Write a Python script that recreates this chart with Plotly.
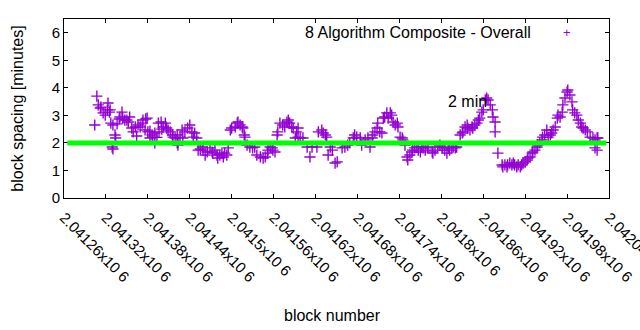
import plotly.graph_objects as go

# ---- data ----
blocks = [
 2041304, 2041307, 2041309, 2041312, 2041313, 2041316, 2041319, 2041322, 2041323, 2041325,
 2041326, 2041327, 2041329, 2041330, 2041330, 2041333, 2041334, 2041336, 2041339, 2041340,
 2041343, 2041344, 2041347, 2041350, 2041352, 2041354, 2041357, 2041359, 2041362, 2041364,
 2041366, 2041369, 2041372, 2041373, 2041376, 2041377, 2041379, 2041380, 2041383, 2041383,
 2041386, 2041387, 2041390, 2041390, 2041393, 2041395, 2041396, 2041399, 2041400, 2041402,
 2041405, 2041407, 2041409, 2041412, 2041415, 2041416, 2041419, 2041422, 2041422, 2041423,
 2041423, 2041426, 2041429, 2041430, 2041433, 2041437, 2041440, 2041443, 2041445, 2041447,
 2041450, 2041452, 2041455, 2041458, 2041459, 2041462, 2041465, 2041469, 2041472, 2041473,
 2041476, 2041479, 2041480, 2041483, 2041486, 2041488, 2041490, 2041493, 2041495, 2041498,
 2041500, 2041505, 2041508, 2041509, 2041512, 2041515, 2041516, 2041518, 2041519, 2041522,
 2041526, 2041530, 2041533, 2041536, 2041541, 2041545, 2041548, 2041551, 2041552, 2041555,
 2041558, 2041559, 2041562, 2041565, 2041566, 2041569, 2041573, 2041576, 2041579, 2041581,
 2041583, 2041586, 2041588, 2041591, 2041593, 2041595, 2041595, 2041598, 2041602, 2041608,
 2041612, 2041615, 2041622, 2041624, 2041629, 2041631, 2041634, 2041636, 2041638, 2041641,
 2041644, 2041648, 2041651, 2041658, 2041662, 2041666, 2041669, 2041674, 2041676, 2041679,
 2041684, 2041686, 2041691, 2041695, 2041698, 2041701, 2041702, 2041705, 2041708, 2041709,
 2041712, 2041715, 2041717, 2041719, 2041722, 2041724, 2041727, 2041729, 2041731, 2041734,
 2041737, 2041738, 2041741, 2041744, 2041745, 2041748, 2041751, 2041752, 2041755, 2041758,
 2041759, 2041762, 2041765, 2041767, 2041770, 2041772, 2041774, 2041777, 2041780, 2041781,
 2041787, 2041788, 2041791, 2041795, 2041798, 2041801, 2041802, 2041805, 2041808, 2041810,
 2041812, 2041815, 2041817, 2041820, 2041822, 2041827, 2041830, 2041831, 2041834, 2041837,
 2041838, 2041841, 2041844, 2041845, 2041848, 2041851, 2041853, 2041855, 2041858, 2041860,
 2041863, 2041865, 2041867, 2041870, 2041873, 2041874, 2041877, 2041877, 2041881, 2041887,
 2041888, 2041891, 2041894, 2041895, 2041898, 2041901, 2041903, 2041905, 2041908, 2041910,
 2041913, 2041915, 2041917, 2041920, 2041923, 2041924, 2041927, 2041930, 2041931, 2041934,
 2041937, 2041938, 2041941, 2041944, 2041945, 2041948, 2041951, 2041953, 2041956, 2041958,
 2041960, 2041963, 2041966, 2041967, 2041970, 2041973, 2041974, 2041977, 2041980, 2041981,
 2041984, 2041987, 2041988, 2041991, 2041994, 2041996, 2041999, 2042001, 2042003, 2042006,
 2042009, 2042013, 2042017, 2042020, 2042020, 2042023, 2042023, 2042024,
]
spacing_minutes = [
 2.65, 3.70, 3.38, 3.27, 3.30, 3.09, 3.01, 3.20, 3.45, 3.12,
 3.20, 2.72, 1.85, 2.65, 1.78, 2.29, 2.18, 2.69, 2.87, 2.94,
 3.12, 2.90, 2.83, 2.83, 2.76, 2.94, 2.54, 2.40, 2.58, 2.25,
 2.65, 2.58, 2.72, 2.83, 2.47, 2.87, 2.90, 2.40, 2.43, 2.18,
 2.29, 2.21, 2.00, 2.36, 2.20, 2.72, 2.40, 2.76, 2.50, 2.58,
 2.72, 2.54, 2.47, 2.40, 2.29, 2.21, 2.18, 2.29, 2.00, 2.03,
 1.92, 2.21, 2.47, 2.18, 2.40, 2.54, 2.65, 2.40, 2.21, 2.36,
 2.18, 1.74, 1.78, 1.85, 1.74, 1.56, 1.67, 1.82, 1.67, 1.63,
 1.74, 1.56, 1.45, 1.56, 1.63, 1.49, 1.63, 1.56, 1.82, 2.47,
 2.54, 2.58, 2.72, 2.76, 2.65, 2.58, 2.54, 2.29, 2.21, 1.92,
 1.85, 1.82, 1.85, 1.56, 1.49, 1.45, 1.49, 1.63, 1.74, 1.85,
 1.82, 1.74, 1.67, 2.29, 2.40, 2.72, 2.65, 2.58, 2.76, 2.83,
 2.72, 2.58, 2.54, 2.18, 2.40, 2.54, 2.21, 2.18, 2.18, 1.85,
 1.49, 1.85, 1.85, 2.40, 2.47, 2.36, 2.29, 2.21, 1.56, 1.85,
 1.74, 1.27, 1.31, 1.82, 1.85, 1.92, 2.00, 2.18, 2.29, 2.21,
 2.18, 1.92, 2.11, 2.18, 1.85, 2.18, 2.29, 2.40, 2.54, 2.72,
 2.40, 2.36, 2.90, 2.94, 3.09, 2.90, 3.09, 3.01, 2.76, 2.65,
 2.72, 2.58, 2.21, 2.18, 2.11, 1.92, 1.49, 1.38, 1.56, 1.67,
 1.74, 1.82, 1.85, 1.74, 1.67, 1.85, 1.82, 1.74, 1.85, 1.82,
 1.67, 1.63, 1.74, 1.85, 1.92, 1.85, 1.82, 1.74, 1.63, 1.82,
 1.74, 1.82, 1.85, 1.82, 1.85, 2.29, 2.36, 2.40, 2.58, 2.65,
 2.54, 2.47, 2.58, 2.54, 2.65, 2.72, 2.83, 2.90, 3.12, 3.20,
 3.56, 3.63, 3.56, 3.38, 3.20, 2.94, 2.76, 2.40, 1.63, 1.20,
 1.13, 1.20, 1.13, 1.20, 1.27, 1.20, 1.27, 1.20, 1.13, 1.20,
 1.13, 1.20, 1.27, 1.31, 1.38, 1.45, 1.49, 1.63, 1.67, 1.74,
 1.85, 1.92, 2.00, 2.11, 2.21, 2.29, 2.47, 2.21, 2.29, 2.36,
 2.47, 2.58, 2.90, 3.01, 2.94, 3.12, 3.38, 3.63, 3.85, 3.92,
 3.74, 3.49, 3.20, 3.09, 3.01, 2.83, 2.72, 2.58, 2.54, 2.47,
 2.40, 2.21, 2.18, 2.11, 1.82, 2.18, 1.74, 2.18,
]
series_name = "8 Algorithm Composite - Overall"
target_minutes = 2
label_text = "2 min"
label_block = 2041807
label_value = 3.5

x_tick_values = [2041260, 2041320, 2041380, 2041440, 2041500, 2041560, 2041620,
                 2041680, 2041740, 2041800, 2041860, 2041920, 2041980, 2042040]
x_tick_labels = [
 "2.04126x10 6", "2.04132x10 6", "2.04138x10 6", "2.04144x10 6", "2.0415x10 6",
 "2.04156x10 6", "2.04162x10 6", "2.04168x10 6", "2.04174x10 6", "2.0418x10 6",
 "2.04186x10 6", "2.04192x10 6", "2.04198x10 6", "2.04204x10 6",
]
y_tick_values = [0, 1, 2, 3, 4, 5, 6]

FONT = "Liberation Sans, Arial, sans-serif"
PURPLE = "#9400d3"

fig = go.Figure()
fig.add_trace(go.Scatter(
    x=blocks, y=spacing_minutes, mode="markers", name=series_name,
    marker=dict(symbol="cross-thin", size=8, color=PURPLE,
                line=dict(width=1.4, color=PURPLE)),
    showlegend=False,
))

# target line (2 minutes)
fig.add_shape(type="line", xref="paper", yref="y", x0=0.006, x1=0.995,
              y0=target_minutes, y1=target_minutes,
              line=dict(color="#00ff00", width=5), layer="above")

fig.add_annotation(x=label_block, y=label_value, text=label_text, showarrow=False,
                   xanchor="left", yanchor="middle",
                   font=dict(family=FONT, size=16, color="black"))

# key (gnuplot style: text then sample)
fig.add_annotation(xref="paper", yref="paper", x=0.86, y=0.923, text=series_name,
                   showarrow=False, xanchor="right", yanchor="middle",
                   font=dict(family=FONT, size=16, color="black"))
fig.add_annotation(xref="paper", yref="paper", x=0.923, y=0.923, text="+",
                   showarrow=False, xanchor="center", yanchor="middle",
                   font=dict(family=FONT, size=13, color=PURPLE))

# axis titles
fig.add_annotation(xref="paper", yref="paper", x=0.492, y=-0.655, text="block number",
                   showarrow=False, xanchor="center", yanchor="middle",
                   font=dict(family=FONT, size=16, color="black"))
fig.add_annotation(xref="paper", yref="paper", x=-0.086, y=0.5,
                   text="block spacing [minutes]", textangle=-90,
                   showarrow=False, xanchor="center", yanchor="middle",
                   font=dict(family=FONT, size=16, color="black"))

axis_common = dict(showgrid=False, zeroline=False, showline=True, linecolor="black",
                   linewidth=1, mirror="ticks", ticks="inside", ticklen=4,
                   tickcolor="black", tickwidth=1, automargin=False)

fig.update_xaxes(range=[2041260, 2042040], tickvals=x_tick_values, ticktext=x_tick_labels,
                 tickangle=45, ticklabeloverflow="allow", ticklabelstandoff=4,
                 tickfont=dict(family=FONT, size=15, color="black"), **axis_common)
fig.update_yaxes(range=[0, 6.5], tickvals=y_tick_values,
                 tickfont=dict(family=FONT, size=15, color="black"), **axis_common)

fig.update_layout(width=640, height=330, margin=dict(l=64, r=31, t=19, b=132),
                  paper_bgcolor="white", plot_bgcolor="white", showlegend=False)

fig.write_html("out.html")
